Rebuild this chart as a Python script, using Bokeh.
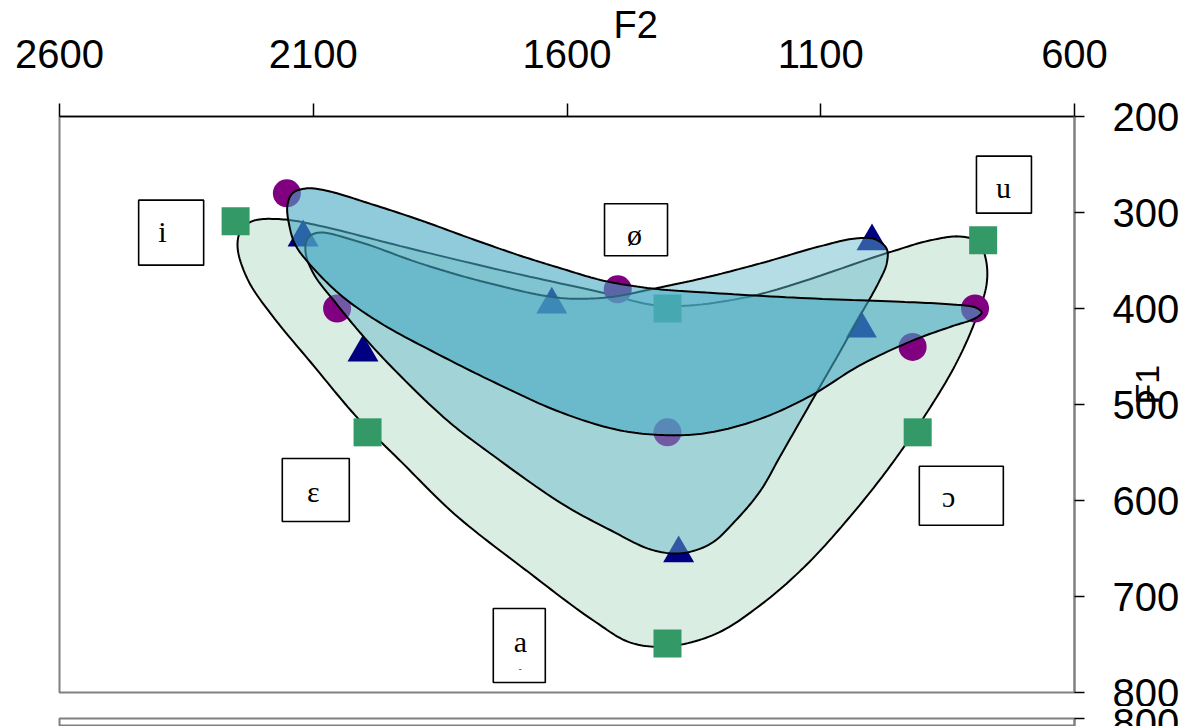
import numpy as np
from bokeh.plotting import figure
from bokeh.layouts import column
from bokeh.models import Range1d, FixedTicker
from bokeh.embed import file_html
from bokeh.resources import INLINE
from bokeh.core.properties import value

# ---------------- data ----------------
vowels = ["i", "ε", "ø", "a", "ɔ", "u"]

circle_f2 = [2152, 2053, 1500, 1402, 919, 796]
circle_f1 = [280, 400, 380, 529, 440, 400]

triangle_f2 = [2120, 2002, 1630, 1380, 1020, 999]
triangle_f1 = [326, 446, 396, 655, 421, 330]

square_f2 = [2253, 1993, 1402, 1402, 909, 780]
square_f1 = [309, 529, 400, 749, 529, 329]

f2_ticks = [2600, 2100, 1600, 1100, 600]
f1_ticks = [200, 300, 400, 500, 600, 700, 800]
next_chart_ticks = [800]

x_title = "F2"
y_title = "F1"

# outlines of the three vowel areas (F2, F1)
square_area_f2 = [2249, 2243, 2220, 2164, 2086, 1928, 1731, 1534, 1416, 1244, 968, 884,
                  825, 789, 775, 773, 795, 835, 894, 963, 1041, 1130, 1219, 1307,
                  1402, 1475, 1548, 1680, 1822, 1926, 2011, 2105, 2180, 2228]
square_area_f1 = [337, 319, 309, 307, 314, 335, 360, 383, 397, 388, 342, 329,
                  325, 331, 348, 374, 412, 459, 511, 564, 616, 668, 709, 739,
                  752, 748, 725, 673, 614, 560, 515, 456, 408, 371]

triangle_area_f2 = [2115, 2111, 2090, 2007, 1889, 1751, 1613, 1514, 1435, 1337, 1219, 1100,
                    1031, 992, 970, 970, 986, 1022, 1061, 1100, 1140, 1179, 1219, 1268,
                    1317, 1376, 1435, 1514, 1611, 1751, 1835, 1938, 2003, 2056, 2098]
triangle_area_f1 = [342, 327, 321, 331, 353, 374, 389, 388, 380, 369, 353, 335,
                    327, 328, 338, 353, 373, 407, 444, 480, 517, 553, 590, 621,
                    645, 655, 651, 631, 603, 551, 517, 465, 428, 394, 365]

circle_area_f2 = [2147, 2151, 2141, 2115, 2076, 1987, 1889, 1790, 1692, 1613, 1528, 1435,
                  1337, 1140, 943, 835, 795, 783, 795, 844, 917, 1022, 1120, 1219,
                  1317, 1396, 1495, 1613, 1731, 1849, 1968, 2046, 2105, 2135]
circle_area_f1 = [314, 293, 280, 275, 277, 291, 308, 327, 345, 358, 371, 379,
                  383, 389, 393, 396, 399, 404, 410, 419, 433, 459, 491, 515,
                  529, 532, 527, 508, 480, 449, 415, 386, 355, 334]

# text boxes (labels of the vowels)
box_f2 = [2380, 2095, 1464, 1694, 823, 739]
box_f1 = [321, 589, 318, 751, 595, 271]
box_w = [65, 67, 63, 52, 84, 55]
box_h = [65, 63, 52, 74, 59, 57]
label_f2 = [2397, 2100, 1467, 1692, 848, 740]
label_f1 = [320, 591, 323, 747, 596, 274]


def smooth_closed(xs, ys, n=14, sx=0.5075, sy=0.96):
    """closed centripetal Catmull-Rom curve through the traced points"""
    P = np.stack([np.asarray(xs, float) * sx, np.asarray(ys, float) * sy], axis=1)
    m = len(P)
    out = []
    for i in range(m):
        p0, p1, p2, p3 = P[(i - 1) % m], P[i], P[(i + 1) % m], P[(i + 2) % m]

        def tj(t, a, b):
            return t + max(np.linalg.norm(b - a), 1e-6) ** 0.5

        t0 = 0.0
        t1 = tj(t0, p0, p1)
        t2 = tj(t1, p1, p2)
        t3 = tj(t2, p2, p3)
        for t in np.linspace(t1, t2, n, endpoint=False):
            A1 = (t1 - t) / (t1 - t0) * p0 + (t - t0) / (t1 - t0) * p1
            A2 = (t2 - t) / (t2 - t1) * p1 + (t - t1) / (t2 - t1) * p2
            A3 = (t3 - t) / (t3 - t2) * p2 + (t - t2) / (t3 - t2) * p3
            B1 = (t2 - t) / (t2 - t0) * A1 + (t - t0) / (t2 - t0) * A2
            B2 = (t3 - t) / (t3 - t1) * A2 + (t - t1) / (t3 - t1) * A3
            out.append((t2 - t) / (t2 - t1) * B1 + (t - t1) / (t2 - t1) * B2)
    out = np.array(out)
    return list(out[:, 0] / sx), list(out[:, 1] / sy)


def style_right_axis(ax, ticks):
    ax.ticker = FixedTicker(ticks=ticks)
    ax.axis_line_color = "#808080"
    ax.axis_line_width = 2
    ax.major_tick_out = 10
    ax.major_tick_in = 0
    ax.major_tick_line_width = 1.5
    ax.minor_tick_line_color = None
    ax.major_label_text_font = "Liberation Sans"
    ax.major_label_text_font_size = "40px"
    ax.major_label_text_color = "black"
    ax.major_label_standoff = 28


NBSP = "\u00a0"

# ---------------- main figure ----------------
p = figure(width=1192, height=706, output_backend="svg", toolbar_location=None,
           x_range=Range1d(2600, 600), y_range=Range1d(800, 200),
           x_axis_location="above", y_axis_location="right",
           min_border_left=59, min_border_right=118, min_border_top=116,
           min_border_bottom=14)
p.grid.visible = False
p.outline_line_color = "#808080"
p.outline_line_width = 2
p.background_fill_color = "white"
p.border_fill_color = "white"

xa = p.xaxis[0]
xa.ticker = FixedTicker(ticks=f2_ticks)
xa.axis_line_color = "black"
xa.axis_line_width = 1.5
xa.major_tick_out = 13
xa.major_tick_in = 0
xa.major_tick_line_width = 1.5
xa.minor_tick_line_color = None
xa.major_label_text_font = "Liberation Sans"
xa.major_label_text_font_size = "40px"
xa.major_label_text_color = "black"
xa.major_label_standoff = 36
# axis title, pushed to the right of the centre like in the picture
xa.axis_label = NBSP * 13 + x_title
xa.axis_label_text_font = "Liberation Sans"
xa.axis_label_text_font_style = "normal"
xa.axis_label_text_font_size = "38px"
xa.axis_label_text_color = "black"
xa.axis_label_standoff = -9

ya = p.yaxis[0]
style_right_axis(ya, f1_ticks)
# axis title, read from bottom to top, drawn over the tick label column
ya.axis_label = y_title
ya.axis_label_orientation = np.pi / 2
ya.axis_label_text_font = "Liberation Sans"
ya.axis_label_text_font_style = "normal"
ya.axis_label_text_font_size = "34px"
ya.axis_label_text_color = "black"
ya.axis_label_standoff = -35

# area of the square series (bottom)
gx, gy = smooth_closed(square_area_f2, square_area_f1)
p.patch(gx, gy, fill_color="#339966", fill_alpha=0.18, line_color="black", line_width=2)

# markers
p.scatter(square_f2, square_f1, marker="square", size=28, fill_color="#339966", line_color=None)
p.scatter(circle_f2, circle_f1, marker="circle", size=28, fill_color="#800080", line_color=None)
p.scatter(triangle_f2, triangle_f1, marker="triangle", size=31, fill_color="#000080", line_color=None)

# areas of the triangle and circle series
tx, ty = smooth_closed(triangle_area_f2, triangle_area_f1)
p.patch(tx, ty, fill_color="#65b8cb", fill_alpha=0.48, line_color="black", line_width=2)
cx, cy = smooth_closed(circle_area_f2, circle_area_f1)
p.patch(cx, cy, fill_color="#44a8c3", fill_alpha=0.6, line_color="black", line_width=2)

# vowel boxes
p.rect(box_f2, box_f1, width=box_w, height=box_h, width_units="screen", height_units="screen",
       fill_color="white", line_color="black", line_width=1.6)
p.text(label_f2, label_f1, text=vowels, text_font=value("Liberation Serif"),
       text_font_size="30px", text_align="center", text_baseline="middle", text_color="black")
p.text([1692], [776], text=["-"], text_font=value("Liberation Serif"),
       text_font_size="9px", text_align="center", text_baseline="middle", text_color="black")

# ---------------- top edge of the next chart (cut by the window) ----------------
p2 = figure(width=1192, height=20, output_backend="svg", toolbar_location=None,
            x_range=Range1d(2600, 600), y_range=Range1d(900, 800),
            x_axis_location=None, y_axis_location="right",
            min_border_left=59, min_border_right=118, min_border_top=12,
            min_border_bottom=0)
p2.grid.visible = False
p2.outline_line_color = "#808080"
p2.outline_line_width = 2
p2.border_fill_color = "white"
style_right_axis(p2.yaxis[0], next_chart_ticks)

open("out.html", "w").write(file_html(column(p, p2), INLINE))
